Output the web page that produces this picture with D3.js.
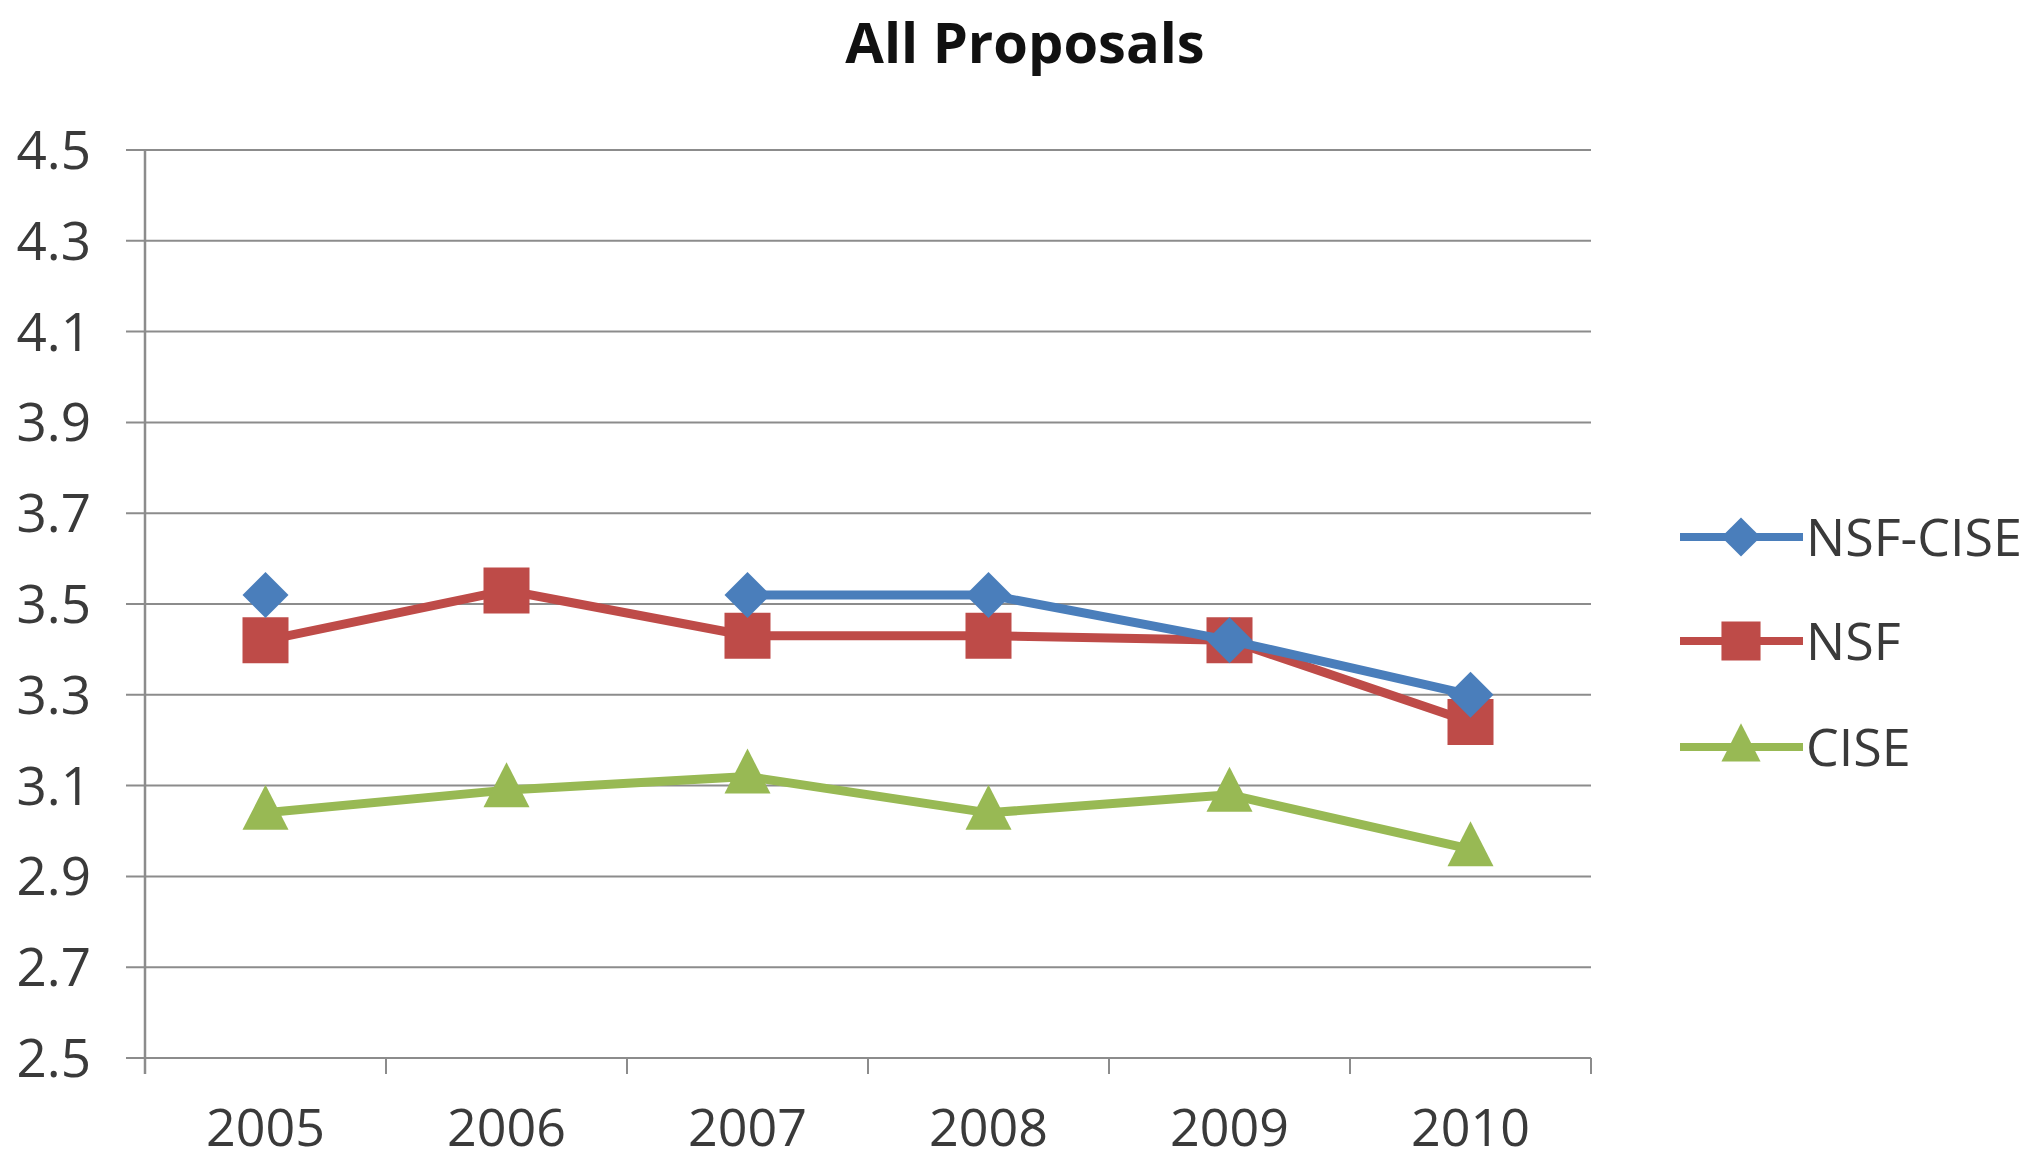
<!DOCTYPE html>
<html lang="en">
<head>
<meta charset="utf-8">
<title>All Proposals</title>
<script src="https://cdn.jsdelivr.net/npm/d3@7"></script>
<style>
  body { margin: 0; background: #fff; }
  text { font-family: "Open Sans", sans-serif; fill: #3a3a3a; }
</style>
</head>
<body>
<script>
// data
const years = ["2005", "2006", "2007", "2008", "2009", "2010"];
const nsfCise = [3.52, null, 3.52, 3.52, 3.42, 3.30];
const nsf = [3.42, 3.53, 3.43, 3.43, 3.42, 3.24];
const cise = [3.04, 3.09, 3.12, 3.04, 3.08, 2.96];
const yTicks = [2.5, 2.7, 2.9, 3.1, 3.3, 3.5, 3.7, 3.9, 4.1, 4.3, 4.5];
const seriesNames = ["NSF-CISE", "NSF", "CISE"];

const W = 2034, H = 1160;
const plotL = 145, plotR = 1591, plotT = 150, plotB = 1058;

const svg = d3.select("body").append("svg")
  .attr("width", W).attr("height", H);

const x = d3.scaleBand().domain(years).range([plotL, plotR]);
const y = d3.scaleLinear().domain([2.5, 4.5]).range([plotB, plotT]);

// gridlines + y ticks
svg.append("g").selectAll("line").data(yTicks).join("line")
  .attr("x1", plotL - 19).attr("x2", plotR)
  .attr("y1", d => y(d)).attr("y2", d => y(d))
  .attr("stroke", "#8c8c8c").attr("stroke-width", 2);

svg.append("g").selectAll("text").data(yTicks).join("text")
  .attr("x", 91).attr("y", d => y(d)).attr("dy", "0.36em")
  .attr("text-anchor", "end")
  .attr("font-size", 53)
  .text(d => d.toFixed(1));

// axes lines
svg.append("line")
  .attr("x1", plotL).attr("x2", plotL).attr("y1", plotT).attr("y2", plotB + 16)
  .attr("stroke", "#8c8c8c").attr("stroke-width", 2.5);

const edges = years.map(d => x(d)).concat([plotR]);
svg.append("g").selectAll("line").data(edges).join("line")
  .attr("x1", d => d).attr("x2", d => d)
  .attr("y1", plotB).attr("y2", plotB + 16)
  .attr("stroke", "#8c8c8c").attr("stroke-width", 2);

svg.append("g").selectAll("text").data(years).join("text")
  .attr("x", d => x(d) + x.bandwidth() / 2).attr("y", 1146)
  .attr("text-anchor", "middle")
  .attr("font-size", 52)
  .text(d => d);

// title
svg.append("text")
  .attr("x", 1025).attr("y", 63)
  .attr("text-anchor", "middle")
  .attr("font-size", 56).attr("font-weight", "bold")
  .style("fill", "#111")
  .text("All Proposals");

const diamond = "M0,-23L23,0L0,23L-23,0Z";
const square = d3.symbol().type(d3.symbolSquare).size(46 * 46)();
const triangle = "M0,-28L23,17L-23,17Z";

const series = [
  { name: seriesNames[0], values: nsfCise, color: "#4a7ebb", marker: diamond },
  { name: seriesNames[1], values: nsf, color: "#be4b48", marker: square },
  { name: seriesNames[2], values: cise, color: "#98b954", marker: triangle }
];

const cx = i => x(years[i]) + x.bandwidth() / 2;
const line = d3.line()
  .defined(d => d != null)
  .x((d, i) => cx(i))
  .y(d => y(d));

// draw in reverse so NSF-CISE sits on top like the picture
series.slice().reverse().forEach(s => {
  svg.append("path")
    .attr("d", line(s.values))
    .attr("fill", "none")
    .attr("stroke", s.color)
    .attr("stroke-width", 9)
    .attr("stroke-linejoin", "round");
  svg.append("g").selectAll("path").data(s.values.map((v, i) => [v, i]).filter(d => d[0] != null))
    .join("path")
    .attr("d", s.marker)
    .attr("transform", d => `translate(${cx(d[1])},${y(d[0])})`)
    .attr("fill", s.color);
});

// legend
const legendY = [537, 641, 747];
series.forEach((s, i) => {
  const g = svg.append("g").attr("transform", `translate(0,${legendY[i]})`);
  g.append("line").attr("x1", 1680).attr("x2", 1803)
    .attr("stroke", s.color).attr("stroke-width", 8);
  g.append("path").attr("d", s.marker)
    .attr("transform", "translate(1741,0) scale(0.85)")
    .attr("fill", s.color);
  g.append("text").attr("x", 1806).attr("dy", "0.36em")
    .attr("font-size", 52)
    .text(s.name);
});
</script>
</body>
</html>
